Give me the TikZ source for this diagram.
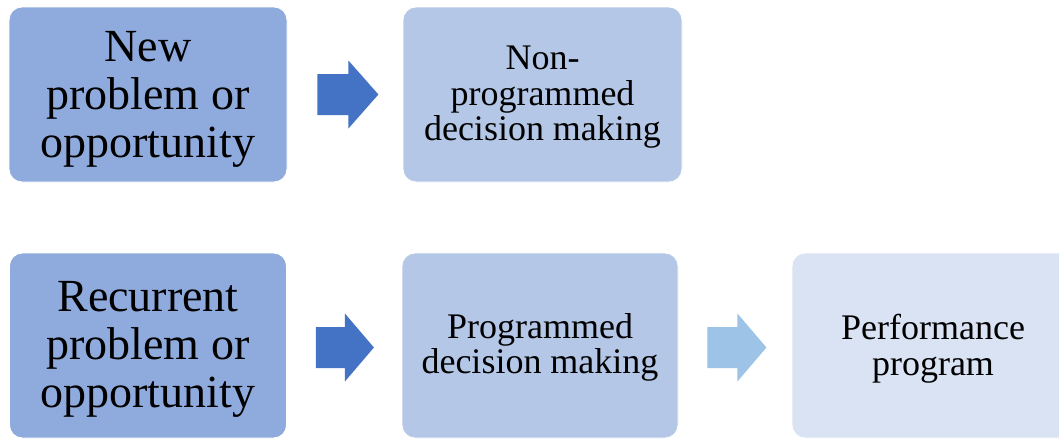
\documentclass[tikz,border=0pt]{standalone}
\usepackage{fontspec}
\setmainfont{Liberation Serif}
\definecolor{boxA}{HTML}{8FAADC}
\definecolor{boxB}{HTML}{B4C7E7}
\definecolor{boxC}{HTML}{DAE3F3}
\definecolor{arrA}{HTML}{4472C4}
\definecolor{arrB}{HTML}{9DC3E6}
\tikzset{
  stagebox/.style={rectangle, rounded corners=13pt, draw=white, line width=0.8pt,
    inner sep=0pt},
  boxlabel/.style={inner sep=0pt, align=center, text=black},
  bigtext/.style={font=\fontsize{46}{48}\selectfont},
  smalltext/.style={font=\fontsize{36}{35.5}\selectfont},
}
% block arrow: start point, shaft length, tip length
\newcommand{\blockarr}[4]{%
  \fill[#1] (#2) ++(0,-20.5) -- ++(#3,0) -- ++(0,-13.5) -- ++(#4,34) -- ++(-#4,34)
    -- ++(0,-13.5) -- ++(-#3,0) -- cycle;}
\begin{document}
\begin{tikzpicture}[x=1pt,y=-1pt]
\useasboundingbox (0,0) rectangle (1059,439);
\fill[white] (0,0) rectangle (1059,439);
% top row
\node[stagebox, fill=boxA, minimum width=278pt, minimum height=175pt] (new) at (148,94.5) {};
\node[boxlabel, bigtext] (newT) at ([yshift=-5pt]new.center) {New\\problem or\\opportunity};
\node[stagebox, fill=boxB, minimum width=279pt, minimum height=175pt] (nonprog) at (542.5,94.5) {};
\node[boxlabel, smalltext] (nonprogT) at ([yshift=-3pt]nonprog.center) {Non-\\programmed\\decision making};
% bottom row
\node[stagebox, fill=boxA, minimum width=277pt, minimum height=185pt] (rec) at (148,345.5) {};
\node[boxlabel, bigtext] (recT) at ([yshift=-4pt]rec.center) {Recurrent\\problem or\\opportunity};
\node[stagebox, fill=boxB, minimum width=276pt, minimum height=185pt] (prog) at (540,345.5) {};
\node[boxlabel, smalltext] (progT) at ([yshift=-2pt]prog.center) {Programmed\\decision making};
\node[stagebox, fill=boxC, minimum width=290pt, minimum height=185pt] (perf) at (937,345.5) {};
\node[boxlabel, smalltext] (perfT) at ([xshift=-4pt,yshift=-3pt]perf.center) {Performance\\program};
% arrows
\coordinate (a1) at ([xshift=30pt]new.east |- new.center);
\coordinate (a2) at ([xshift=29pt]rec.east |- 0,347.5);
\coordinate (a3) at ([xshift=29pt]prog.east |- 0,347.5);
\blockarr{arrA}{a1}{31}{30}
\blockarr{arrA}{a2}{29}{29}
\blockarr{arrB}{a3}{30}{29}
\end{tikzpicture}
\end{document}
